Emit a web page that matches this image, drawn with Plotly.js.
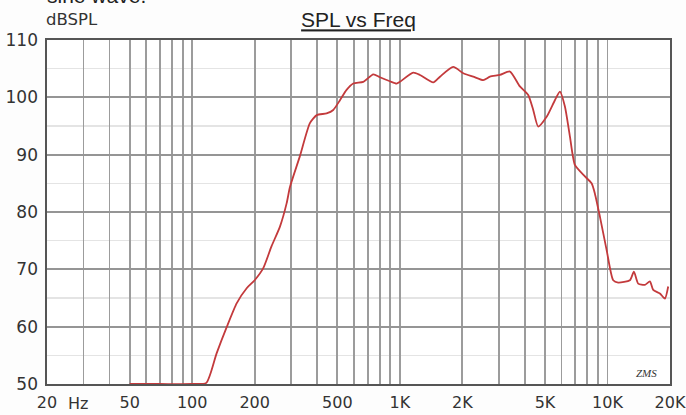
<!DOCTYPE html>
<html>
<head>
<meta charset="utf-8">
<script src="https://cdn.plot.ly/plotly-3.0.1.min.js"></script>
<style>
html,body{margin:0;padding:0;background:#fdfdfd;}
#chart{width:686px;height:415px;}
</style>
</head>
<body>
<div id="chart"></div>
<script>
// Frequency (Hz) and SPL (dB)
var freq = [50, 70, 100, 117, 131, 147, 164, 183, 200, 220, 241, 265, 285, 296, 330, 369, 398, 444, 478, 515, 554, 597, 667, 745, 802, 896, 965, 1000, 1160, 1250, 1449, 1561, 1808, 2021, 2257, 2521, 2716, 3034, 3390, 3787, 4152, 4389, 4638, 5092, 5582, 5901, 6237, 6592, 6969, 7640, 8385, 8697, 9194, 9901, 10654, 11260, 12823, 13405, 14060, 15144, 16005, 16600, 17881, 18905, 19605];
var spl = [50, 50, 50, 50.2, 55.3, 60, 64.1, 66.7, 68.1, 70.2, 74, 77.5, 81.5, 84.4, 89.7, 95.5, 96.9, 97.2, 97.8, 99.5, 101.3, 102.4, 102.7, 104.0, 103.5, 102.8, 102.4, 102.7, 104.3, 103.9, 102.6, 103.6, 105.3, 104.2, 103.6, 103.0, 103.6, 103.9, 104.5, 101.9, 100.4, 97.8, 94.9, 96.6, 99.5, 101.0, 98.4, 93.2, 88.2, 86.5, 85.0, 83.2, 79.2, 73.4, 68.1, 67.7, 68.1, 69.6, 67.5, 67.3, 67.9, 66.4, 65.8, 64.9, 67.0];

// Grid / tick positions on the log frequency axis
var gridFreqs = [20, 30, 40, 50, 60, 70, 80, 90, 100, 200, 300, 400, 500, 600, 700, 800, 900, 1000, 2000, 3000, 4000, 5000, 6000, 7000, 8000, 9000, 10000, 20000];
var labelFreqs = [20, 50, 100, 200, 500, 1000, 2000, 5000, 10000, 20000];
var labelText = ["20", "50", "100", "200", "500", "1K", "2K", "5K", "10K", "20K"];

var ticktext = gridFreqs.map(function (f) {
  var i = labelFreqs.indexOf(f);
  return i >= 0 ? labelText[i] : "";
});

var trace = {
  x: freq,
  y: spl,
  type: 'scatter',
  mode: 'lines',
  line: {color: '#c33a3c', width: 1.8, shape: 'spline', smoothing: 0.6},
  hoverinfo: 'skip'
};

var layout = {
  width: 686,
  height: 415,
  margin: {l: 47, r: 16, t: 40, b: 31},
  paper_bgcolor: '#fdfdfd',
  plot_bgcolor: '#ffffff',
  showlegend: false,
  font: {family: 'DejaVu Sans, Verdana, sans-serif', size: 16, color: '#333'},
  title: {
    text: '<u>SPL vs Freq</u>',
    font: {family: 'Liberation Sans, Arial, sans-serif', size: 21, color: '#222'},
    x: 0.5, xref: 'paper',
    y: 1 - 20 / 415, yref: 'container', yanchor: 'middle'
  },
  xaxis: {
    type: 'log',
    range: [Math.log10(20), Math.log10(20000)],
    tickmode: 'array',
    tickvals: gridFreqs,
    ticktext: ticktext,
    ticks: '',
    ticklabelstandoff: 3,
    showgrid: true,
    gridcolor: '#9c9c9c',
    gridwidth: 1.8,
    showline: true,
    linecolor: '#555',
    linewidth: 1.6,
    mirror: true,
    zeroline: false,
    tickfont: {family: 'DejaVu Sans, Verdana, sans-serif', size: 16, color: '#333'},
    fixedrange: true
  },
  yaxis: {
    range: [50, 110],
    tickmode: 'linear',
    tick0: 50,
    dtick: 10,
    ticks: '',
    ticklabelstandoff: 4,
    showgrid: true,
    gridcolor: '#959595',
    gridwidth: 1.8,
    minor: {dtick: 5, tick0: 50, showgrid: true, gridcolor: '#e4e4e4', gridwidth: 1.2},
    showline: true,
    linecolor: '#555',
    linewidth: 1.6,
    mirror: true,
    zeroline: false,
    tickfont: {family: 'DejaVu Sans, Verdana, sans-serif', size: 17, color: '#333'},
    fixedrange: true
  },
  annotations: [
    {text: 'dBSPL', xref: 'paper', yref: 'paper', x: 0, y: 1, xanchor: 'left', yanchor: 'bottom',
     yshift: 9, xshift: -3, showarrow: false,
     font: {family: 'DejaVu Sans, Verdana, sans-serif', size: 16.5, color: '#333'}},
    {text: 'Hz', xref: 'paper', yref: 'paper', x: (78 - 47) / 623, y: 0, xanchor: 'center', yanchor: 'top',
     yshift: -8, showarrow: false,
     font: {family: 'DejaVu Sans, Verdana, sans-serif', size: 16, color: '#333'}},
    {text: '<i>ZMS</i>', xref: 'paper', yref: 'paper', x: 0.962, y: 0.033, xanchor: 'center', yanchor: 'middle',
     showarrow: false,
     font: {family: 'Liberation Serif, serif', size: 11, color: '#333'}},
    {text: 'sine wave.', xref: 'paper', yref: 'paper', x: 0, y: 1, xanchor: 'left', yanchor: 'bottom',
     yshift: 31, xshift: -2, showarrow: false,
     font: {family: 'Liberation Sans, Arial, sans-serif', size: 21, color: '#222'}}
  ]
};

Plotly.newPlot('chart', [trace], layout, {staticPlot: true, displayModeBar: false});
</script>
</body>
</html>
